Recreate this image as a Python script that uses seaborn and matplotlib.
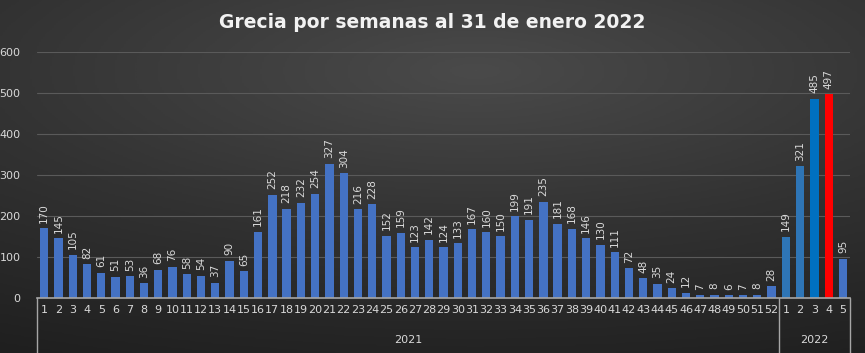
import numpy as np
import pandas as pd
import seaborn as sns
import matplotlib.pyplot as plt

# weekly values, 2021 weeks 1-52 then 2022 weeks 1-5
weeks_2021 = list(range(1, 53))
values_2021 = [170, 145, 105, 82, 61, 51, 53, 36, 68, 76, 58, 54, 37, 90, 65, 161,
               252, 218, 232, 254, 327, 304, 216, 228, 152, 159, 123, 142, 124, 133,
               167, 160, 150, 199, 191, 235, 181, 168, 146, 130, 111, 72, 48, 35, 24,
               12, 7, 8, 6, 7, 8, 28]
weeks_2022 = [1, 2, 3, 4, 5]
values_2022 = [149, 321, 485, 497, 95]
years = ["2021", "2022"]
title = "Grecia por semanas al 31 de enero 2022"

data = pd.DataFrame({
    "key": [f"2021-{w}" for w in weeks_2021] + [f"2022-{w}" for w in weeks_2022],
    "week": weeks_2021 + weeks_2022,
    "value": values_2021 + values_2022,
})

colors = ["#4472C4"] * len(weeks_2021) + ["#2E75B6", "#2E75B6", "#0070C0", "#FF0000", "#4472C4"]
palette = dict(zip(data["key"], colors))

sns.set_theme(style="dark")
plt.rcParams["font.family"] = ["DejaVu Sans"]
txt = "#D9D9D9"

fig = plt.figure(figsize=(8.65, 3.53), dpi=100)

# dark gradient background
bg = fig.add_axes([0, 0, 1, 1], zorder=-10)
yy, xx = np.mgrid[0:1:200j, 0:1:400j]
dist = np.sqrt(((xx - 0.55) * 1.0) ** 2 + ((yy - 0.2) * 1.3) ** 2)
bg.imshow(-dist, cmap=sns.blend_palette(["#1F1F1F", "#323232", "#4A4A4A"], as_cmap=True),
          aspect="auto", extent=[0, 1, 0, 1])
bg.axis("off")

ax = fig.add_axes([0.0428, 0.156, 0.9399, 0.697])
ax.set_facecolor("none")
sns.barplot(data=data, x="key", y="value", hue="key", palette=palette,
            legend=False, width=0.58, saturation=1, linewidth=0, ax=ax)

ax.set_ylim(0, 600)
ax.set_yticks(range(0, 601, 100))
ax.set_xlim(-0.5, len(data) - 0.5)
ax.grid(axis="y", color="#5A5A5A", linewidth=0.8)
ax.set_axisbelow(True)
ax.set_xlabel("")
ax.set_ylabel("")
ax.set_xticks(range(len(data)))
ax.set_xticklabels(data["week"], color=txt, fontsize=8)
ax.tick_params(axis="y", colors=txt, labelsize=8, length=0, pad=12)
ax.tick_params(axis="x", length=0, pad=5)
for s in ["top", "right", "left"]:
    ax.spines[s].set_visible(False)
ax.spines["bottom"].set_color("#A6A6A6")
ax.spines["bottom"].set_linewidth(1.2)

for cont in ax.containers:
    ax.bar_label(cont, rotation=90, color=txt, fontsize=7.5, padding=4)

# year group separators and labels
n21 = len(weeks_2021)
tr = ax.get_xaxis_transform()
for xpos in [-0.5, n21 - 0.5, len(data) - 0.5]:
    ax.plot([xpos, xpos], [0, -0.75], transform=tr, color="#A6A6A6",
            linewidth=1.0, clip_on=False)
ax.text((n21 - 1) / 2, -0.17, years[0], transform=tr, color=txt, fontsize=8,
        ha="center", va="center")
ax.text(n21 + (len(weeks_2022) - 1) / 2, -0.17, years[1], transform=tr, color=txt,
        fontsize=8, ha="center", va="center")

fig.text(0.5, 0.935, title, color="#F2F2F2", fontsize=13.5, fontweight="bold",
         ha="center", va="center")

fig.savefig("out.png", dpi=100)
